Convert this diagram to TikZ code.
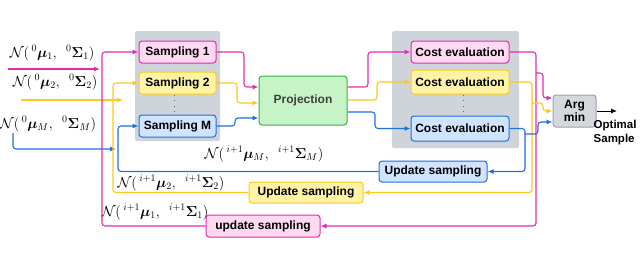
\documentclass[tikz,border=0pt]{standalone}
\usepackage{amsmath,amssymb,bm}
\usepackage{fontspec}
\setsansfont{Liberation Sans}
\usepackage{tikz}
\usetikzlibrary{arrows.meta}
\definecolor{pinkline}{HTML}{E02DAE}
\definecolor{pinkfill}{HTML}{FFD9F1}
\definecolor{yelline}{HTML}{FFC81E}
\definecolor{yelfill}{HTML}{FFF3A6}
\definecolor{blueline}{HTML}{1F6FE3}
\definecolor{bluefill}{HTML}{D0E3FF}
\definecolor{greenline}{HTML}{3BAF45}
\definecolor{greenfill}{HTML}{C6F4C6}
\definecolor{panelgray}{HTML}{CFD4DB}
\definecolor{argline}{HTML}{9CA2AA}
\definecolor{argfill}{HTML}{D4D7DC}
\newcommand{\GaussLabel}[3]{$\mathcal{N}(\,{}^{#1}\bm{\mu}_{#2},\ \,{}^{#1}\bm{\Sigma}_{#3})$}

\begin{document}
\begin{tikzpicture}[x=1pt,y=-1pt,
  font=\fontsize{12}{14.4}\selectfont,
  box/.style={draw,rounded corners=3pt,line width=1pt,inner sep=0pt,font=\fontsize{12}{14.4}\selectfont\sffamily\bfseries},
  panel/.style={fill=panelgray,rounded corners=2pt,inner sep=0pt},
  pk/.style={pinkline,line width=1.1pt,rounded corners=3pt},
  yl/.style={yelline,line width=1.1pt,rounded corners=3pt},
  bl/.style={blueline,line width=1.1pt,rounded corners=3pt},
  tip/.style={-{Latex[length=6pt,width=5pt]}},
  mlab/.style={font=\fontsize{14}{16}\selectfont,inner sep=0pt}]
  \useasboundingbox (0,0) rectangle (640,266);

  % grey panels
  \node[panel,minimum width=85pt,minimum height=110pt] (panelL) at (177.5,86) {};
  \node[panel,minimum width=127pt,minimum height=117pt] (panelR) at (455.5,89.5) {};

  % sampling boxes
  \node[box,draw=pinkline,fill=pinkfill,minimum width=77pt,minimum height=22pt] (s1) at (177.5,52) {Sampling 1};
  \node[box,draw=yelline,fill=yelfill,minimum width=77pt,minimum height=22pt] (s2) at (177.5,83) {Sampling 2};
  \node[box,draw=blueline,fill=bluefill,minimum width=77pt,minimum height=22pt] (sM) at (177.5,126) {Sampling M};
  \draw[black!60,line width=0.8pt,dash pattern=on 0.6pt off 5pt] ([xshift=-3pt]s2.south) -- ([xshift=-3pt]sM.north);

  \node[box,draw=greenline,fill=greenfill,minimum width=88pt,minimum height=49pt,text=black!75] (proj) at (303,100.5) {Projection};

  % cost boxes
  \node[box,draw=pinkline,fill=pinkfill,minimum width=98pt,minimum height=22pt] (c1) at (460,52) {Cost evaluation};
  \node[box,draw=yelline,fill=yelfill,minimum width=98pt,minimum height=24pt] (c2) at (460,82) {Cost evaluation};
  \node[box,draw=blueline,fill=bluefill,minimum width=98pt,minimum height=25pt] (cM) at (460,128.5) {Cost evaluation};
  \draw[black!60,line width=0.8pt,dash pattern=on 0.6pt off 5pt] ([xshift=3pt]c2.south) -- ([xshift=3pt]cM.north);

  \node[box,draw=argline,fill=argfill,minimum width=43pt,minimum height=32pt,align=center,font=\fontsize{12}{13}\selectfont\sffamily\bfseries] (argmin) at (574.5,111) {Arg\\min};
  \coordinate (optEnd) at (617,111);
  \node[anchor=north west,align=left,inner sep=0pt,font=\fontsize{11.5}{14}\selectfont\sffamily\bfseries] (optLab) at (593.5,120) {Optimal\\Sample};
  \draw[black,line width=0.9pt,tip] (argmin.east) -- (optEnd);

  % update boxes
  \node[box,draw=blueline,fill=bluefill,minimum width=108pt,minimum height=21pt] (ub) at (433,171.5) {Update sampling};
  \node[box,draw=yelline,fill=yelfill,minimum width=114pt,minimum height=21pt] (uy) at (306,192.5) {Update sampling};
  \node[box,draw=pinkline,fill=pinkfill,minimum width=114pt,minimum height=22pt] (up) at (263,226) {update sampling};

  % distribution labels
  \node[mlab] (l01) at (52,53) {\GaussLabel{0}{1}{1}};
  \node[mlab] (l02) at (55,82) {\GaussLabel{0}{2}{2}};
  \node[mlab] (l0M) at (48,124) {\GaussLabel{0}{M}{M}};
  \node[mlab] (liM) at (264,154) {\GaussLabel{i+1}{M}{M}};
  \node[mlab] (li2) at (171,183) {\GaussLabel{i+1}{2}{2}};
  \node[mlab] (li1) at (155,212) {\GaussLabel{i+1}{1}{1}};

  % inputs
  \coordinate (pinA) at (8,69);   \coordinate (pinB) at (100,69);
  \coordinate (yinA) at (21,100); \coordinate (yinB) at (123,100);
  \coordinate (binA) at (13,133); \coordinate (binB) at (116,149);
  \draw[pk,tip] (pinA) -- (pinB);
  \draw[yl,tip] (yinA) -- (yinB);
  \draw[bl,tip] (binA) |- (binB);

  % pink chain
  \draw[pk,tip] (up.west) -| (102,52) -- (s1.west);
  \draw[pk,tip] (s1.east) -- (244,52) |- (proj.west |- 0,87);
  \draw[pk,tip] (proj.east |- 0,87) -- (368,87) |- (c1.west);
  \draw[pk,tip] (c1.east) -| (536,226) -- (up.east);
  \draw[pk,tip] (536,73) -| (543,98) -- (argmin.west |- 0,98);

  % yellow chain
  \draw[yl,tip] (uy.west) -| (113,83) -- (s2.west);
  \draw[yl,tip] (s2.east) -- (237,83) |- (proj.west |- 0,103);
  \draw[yl,tip] (proj.east |- 0,100) -- (377,100) |- (c2.west);
  \draw[yl,tip] (c2.east) -| (532,192.5) -- (uy.east);
  \draw[yl,tip] (532,103) -| (543,111) -- (argmin.west);

  % blue chain
  \draw[bl,tip] (ub.west) -| (118,126) -- (sM.west);
  \draw[bl,tip] (sM.east) -- (235,126) |- (proj.west |- 0,118);
  \draw[bl,tip] (proj.east |- 0,112) -- (375,112) |- (cM.west);
  \draw[bl,tip] (cM.east) -| (525,171.5) -- (ub.east);
  \draw[bl,tip] (525,134) -| (538,122) -- (argmin.west |- 0,122);
\end{tikzpicture}
\end{document}
